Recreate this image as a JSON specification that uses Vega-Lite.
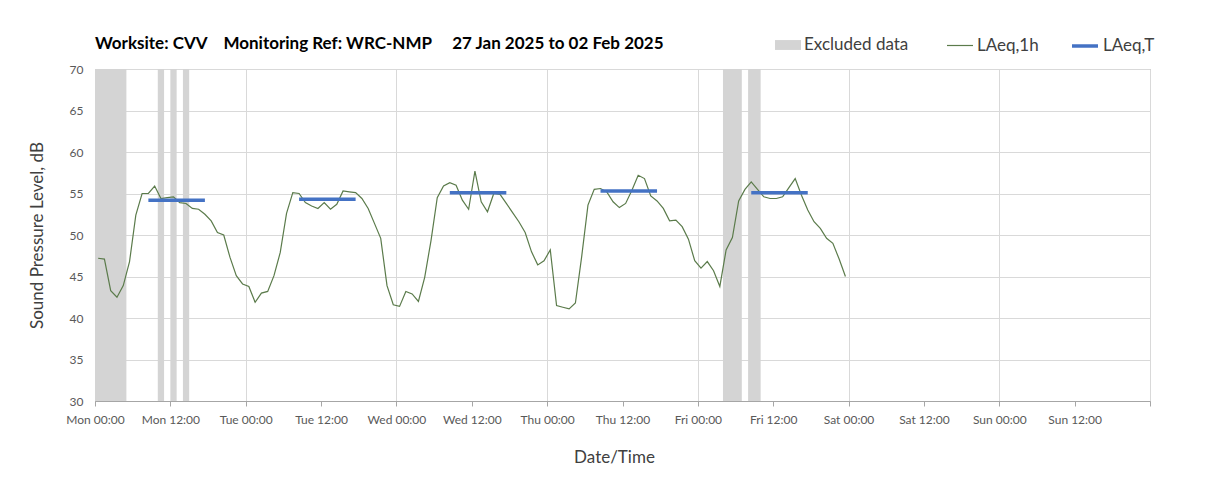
{
  "$schema": "https://vega.github.io/schema/vega-lite/v6.json",
  "width": 1055,
  "height": 332,
  "autosize": {"type": "none"},
  "padding": {"left": 95, "top": 69, "right": 58, "bottom": 90},
  "background": "#ffffff",
  "config": {
    "font": "Lato",
    "view": {"stroke": "#a6a6a6", "strokeWidth": 1},
    "axis": {
      "labelFont": "Lato",
      "labelFontSize": 12,
      "labelColor": "#595959",
      "titleFont": "Lato",
      "titleFontSize": 17,
      "titleFontWeight": "normal",
      "titleColor": "#404040",
      "gridColor": "#d9d9d9",
      "domainColor": "#a6a6a6",
      "tickColor": "#a6a6a6"
    },
    "legend": {
      "labelFont": "Lato",
      "labelFontSize": 17,
      "labelColor": "#404040",
      "labelOffset": 3,
      "symbolSize": 676,
      "symbolOpacity": 1
    }
  },
  "title": {
    "text": "Worksite: CVV\u00a0\u00a0\u00a0\u00a0Monitoring Ref: WRC-NMP\u00a0\u00a0\u00a0\u00a0\u00a027 Jan 2025 to 02 Feb 2025",
    "anchor": "start",
    "frame": "group",
    "font": "Lato",
    "fontSize": 17,
    "fontWeight": "bold",
    "color": "#000000",
    "baseline": "alphabetic",
    "offset": 16,
    "dy": 51
  },
  "layer": [
    {
      "data": {"values": [
        {"start": 0, "end": 5},
        {"start": 10, "end": 11},
        {"start": 12, "end": 13},
        {"start": 14, "end": 15},
        {"start": 100, "end": 103},
        {"start": 104, "end": 106}
      ]},
      "mark": {"type": "rect", "opacity": 1},
      "encoding": {
        "x": {
          "field": "start", "type": "quantitative",
          "scale": {"domain": [0, 168], "nice": false, "zero": false},
          "axis": {
            "values": [0, 12, 24, 36, 48, 60, 72, 84, 96, 108, 120, 132, 144, 156, 168],
            "labelExpr": "datum.value >= 168 ? '' : ['Mon','Tue','Wed','Thu','Fri','Sat','Sun'][floor(datum.value/24)] + (datum.value % 24 === 0 ? ' 00:00' : ' 12:00')",
            "title": "Date/Time",
            "titleX": 519,
            "tickSize": 5,
            "labelPadding": 8,
            "titlePadding": 24,
            "labelFlush": false,
            "labelOverlap": false,
            "grid": true,
            "gridOpacity": {"condition": {"test": "datum.value % 24 === 0", "value": 1}, "value": 0}
          }
        },
        "x2": {"field": "end"},
        "y": {"datum": 30, "type": "quantitative",
          "scale": {"domain": [30, 70], "nice": false, "zero": false},
          "axis": {
            "values": [30, 35, 40, 45, 50, 55, 60, 65, 70],
            "title": "Sound Pressure Level, dB",
            "ticks": false,
            "labelPadding": 12,
            "titlePadding": 23,
            "grid": true
          }
        },
        "y2": {"datum": 70},
        "fill": {
          "datum": "Excluded data", "type": "nominal",
          "scale": {"domain": ["Excluded data"], "range": ["#d4d4d4"]},
          "legend": {
            "orient": "none",
            "legendX": 680,
            "legendY": -37,
            "direction": "horizontal",
            "title": null,
            "symbolType": "M-1,-0.38H1V0.38H-1Z",
            "symbolStrokeWidth": 0
          }
        }
      }
    },
    {
      "data": {"values": [
        {"hour": 0.5, "laeq": 47.2}, {"hour": 1.5, "laeq": 47.1}, {"hour": 2.5, "laeq": 43.3}, {"hour": 3.5, "laeq": 42.5},
        {"hour": 4.5, "laeq": 43.9}, {"hour": 5.5, "laeq": 46.8}, {"hour": 6.5, "laeq": 52.4}, {"hour": 7.5, "laeq": 55.0},
        {"hour": 8.5, "laeq": 55.0}, {"hour": 9.5, "laeq": 55.9}, {"hour": 10.5, "laeq": 54.4}, {"hour": 11.5, "laeq": 54.5},
        {"hour": 12.5, "laeq": 54.6}, {"hour": 13.5, "laeq": 53.9}, {"hour": 14.5, "laeq": 53.8}, {"hour": 15.5, "laeq": 53.2},
        {"hour": 16.5, "laeq": 53.1}, {"hour": 17.5, "laeq": 52.5}, {"hour": 18.5, "laeq": 51.7}, {"hour": 19.5, "laeq": 50.3},
        {"hour": 20.5, "laeq": 50.0}, {"hour": 21.5, "laeq": 47.3}, {"hour": 22.5, "laeq": 45.1}, {"hour": 23.5, "laeq": 44.1},
        {"hour": 24.5, "laeq": 43.8}, {"hour": 25.5, "laeq": 41.9}, {"hour": 26.5, "laeq": 43.0}, {"hour": 27.5, "laeq": 43.2},
        {"hour": 28.5, "laeq": 45.1}, {"hour": 29.5, "laeq": 47.9}, {"hour": 30.5, "laeq": 52.6}, {"hour": 31.5, "laeq": 55.1},
        {"hour": 32.5, "laeq": 55.0}, {"hour": 33.5, "laeq": 53.9}, {"hour": 34.5, "laeq": 53.5}, {"hour": 35.5, "laeq": 53.2},
        {"hour": 36.5, "laeq": 53.9}, {"hour": 37.5, "laeq": 53.1}, {"hour": 38.5, "laeq": 53.7}, {"hour": 39.5, "laeq": 55.3},
        {"hour": 40.5, "laeq": 55.2}, {"hour": 41.5, "laeq": 55.1}, {"hour": 42.5, "laeq": 54.4}, {"hour": 43.5, "laeq": 53.2},
        {"hour": 44.5, "laeq": 51.4}, {"hour": 45.5, "laeq": 49.6}, {"hour": 46.5, "laeq": 43.9}, {"hour": 47.5, "laeq": 41.6},
        {"hour": 48.5, "laeq": 41.4}, {"hour": 49.5, "laeq": 43.2}, {"hour": 50.5, "laeq": 42.9}, {"hour": 51.5, "laeq": 42.0},
        {"hour": 52.5, "laeq": 44.9}, {"hour": 53.5, "laeq": 49.3}, {"hour": 54.5, "laeq": 54.5}, {"hour": 55.5, "laeq": 55.9},
        {"hour": 56.5, "laeq": 56.3}, {"hour": 57.5, "laeq": 56.0}, {"hour": 58.5, "laeq": 54.2}, {"hour": 59.5, "laeq": 53.1},
        {"hour": 60.5, "laeq": 57.7}, {"hour": 61.5, "laeq": 54.0}, {"hour": 62.5, "laeq": 52.8}, {"hour": 63.5, "laeq": 55.0},
        {"hour": 64.5, "laeq": 54.9}, {"hour": 65.5, "laeq": 53.8}, {"hour": 66.5, "laeq": 52.7}, {"hour": 67.5, "laeq": 51.6},
        {"hour": 68.5, "laeq": 50.3}, {"hour": 69.5, "laeq": 48.0}, {"hour": 70.5, "laeq": 46.4}, {"hour": 71.5, "laeq": 46.9},
        {"hour": 72.5, "laeq": 48.2}, {"hour": 73.5, "laeq": 41.5}, {"hour": 74.5, "laeq": 41.3}, {"hour": 75.5, "laeq": 41.1},
        {"hour": 76.5, "laeq": 41.8}, {"hour": 77.5, "laeq": 47.4}, {"hour": 78.5, "laeq": 53.6}, {"hour": 79.5, "laeq": 55.5},
        {"hour": 80.5, "laeq": 55.6}, {"hour": 81.5, "laeq": 55.2}, {"hour": 82.5, "laeq": 54.0}, {"hour": 83.5, "laeq": 53.3},
        {"hour": 84.5, "laeq": 53.8}, {"hour": 85.5, "laeq": 55.4}, {"hour": 86.5, "laeq": 57.2}, {"hour": 87.5, "laeq": 56.8},
        {"hour": 88.5, "laeq": 54.7}, {"hour": 89.5, "laeq": 54.1}, {"hour": 90.5, "laeq": 53.2}, {"hour": 91.5, "laeq": 51.7},
        {"hour": 92.5, "laeq": 51.8}, {"hour": 93.5, "laeq": 51.0}, {"hour": 94.5, "laeq": 49.5}, {"hour": 95.5, "laeq": 46.9},
        {"hour": 96.5, "laeq": 46.0}, {"hour": 97.5, "laeq": 46.8}, {"hour": 98.5, "laeq": 45.7}, {"hour": 99.5, "laeq": 43.8},
        {"hour": 100.5, "laeq": 48.2}, {"hour": 101.5, "laeq": 49.7}, {"hour": 102.5, "laeq": 54.1}, {"hour": 103.5, "laeq": 55.5},
        {"hour": 104.5, "laeq": 56.4}, {"hour": 105.5, "laeq": 55.5}, {"hour": 106.5, "laeq": 54.6}, {"hour": 107.5, "laeq": 54.4},
        {"hour": 108.5, "laeq": 54.4}, {"hour": 109.5, "laeq": 54.6}, {"hour": 110.5, "laeq": 55.7}, {"hour": 111.5, "laeq": 56.8},
        {"hour": 112.5, "laeq": 54.8}, {"hour": 113.5, "laeq": 53.0}, {"hour": 114.5, "laeq": 51.6}, {"hour": 115.5, "laeq": 50.8},
        {"hour": 116.5, "laeq": 49.6}, {"hour": 117.5, "laeq": 49.0}, {"hour": 118.5, "laeq": 47.1}, {"hour": 119.5, "laeq": 45.0}
      ]},
      "mark": {"type": "line", "interpolate": "linear"},
      "encoding": {
        "x": {"field": "hour", "type": "quantitative"},
        "y": {"field": "laeq", "type": "quantitative"},
        "stroke": {
          "datum": "LAeq,1h", "type": "nominal",
          "scale": {"domain": ["LAeq,1h", "LAeq,T"], "range": ["#5b7b4b", "#4472c4"]},
          "legend": {
            "orient": "none",
            "legendX": 851,
            "legendY": -38,
            "direction": "horizontal",
            "title": null,
            "symbolType": "stroke",
            "columnPadding": 26
          }
        },
        "strokeWidth": {
          "datum": "LAeq,1h", "type": "nominal",
          "scale": {"type": "point", "domain": ["LAeq,1h", "LAeq,T"], "range": [1.2, 3.5]},
          "legend": {
            "orient": "none",
            "legendX": 851,
            "legendY": -38,
            "direction": "horizontal",
            "title": null,
            "symbolType": "stroke",
            "columnPadding": 26
          }
        }
      }
    },
    {
      "data": {"values": [
        {"day": "Mon", "start": 8.5, "end": 17.5, "laeqT": 54.2},
        {"day": "Tue", "start": 32.5, "end": 41.5, "laeqT": 54.3},
        {"day": "Wed", "start": 56.5, "end": 65.5, "laeqT": 55.1},
        {"day": "Thu", "start": 80.5, "end": 89.5, "laeqT": 55.3},
        {"day": "Fri", "start": 104.5, "end": 113.5, "laeqT": 55.1}
      ]},
      "mark": {"type": "rule", "strokeCap": "butt"},
      "encoding": {
        "x": {"field": "start", "type": "quantitative"},
        "x2": {"field": "end"},
        "y": {"field": "laeqT", "type": "quantitative"},
        "stroke": {"datum": "LAeq,T", "type": "nominal"},
        "strokeWidth": {"datum": "LAeq,T", "type": "nominal"}
      }
    }
  ]
}
